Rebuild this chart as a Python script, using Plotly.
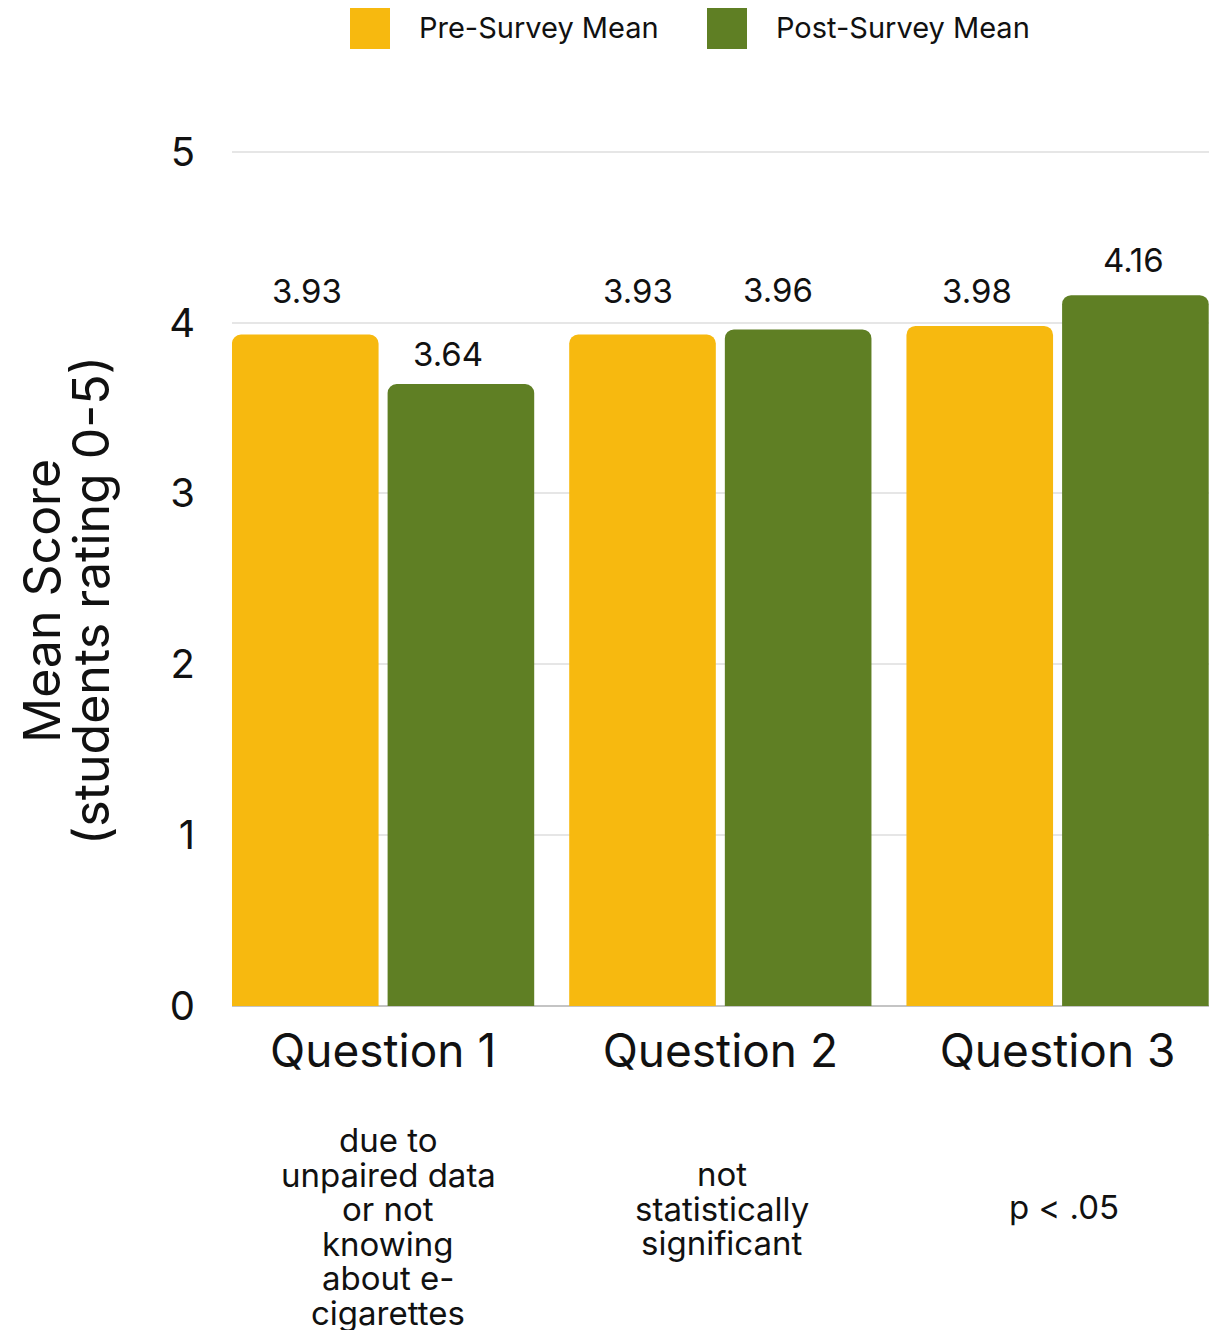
import plotly.graph_objects as go

# Survey results
questions = ["Question 1", "Question 2", "Question 3"]
pre_means = [3.93, 3.93, 3.98]
post_means = [3.64, 3.96, 4.16]
notes = [
    ["due to", "unpaired data", "or not", "knowing", "about e-", "cigarettes"],
    ["not", "statistically", "significant"],
    ["p < .05"],
]
series_names = ["Pre-Survey Mean", "Post-Survey Mean"]
y_ticks = [0, 1, 2, 3, 4, 5]

YELLOW = "#F7B90F"
GREEN = "#5F7F24"
FONT = "Inter, DejaVu Sans, sans-serif"
INK = "#111111"

# plot-area geometry in pixels (used to place paper-referenced decorations)
L, R, T, B = 232, 12, 150, 324
W, H = 1221, 1330
PW, PH = W - L - R, H - T - B
X0_PX, Y0_PX = L, H - B


def px_x(px):
    return (px - X0_PX) / PW


def px_y(py):
    return (Y0_PX - py) / PH


fig = go.Figure()
fig.add_trace(go.Bar(x=questions, y=pre_means, name=series_names[0],
                     marker=dict(color=YELLOW, line=dict(width=0)), showlegend=False))
fig.add_trace(go.Bar(x=questions, y=post_means, name=series_names[1],
                     marker=dict(color=GREEN, line=dict(width=0)), showlegend=False))

annotations = []
# value labels above each bar: (x offset of the bar within its group, label nudges)
bar_offset = [-0.2245, 0.2245]
label_xshift = [[0, -11], [-7, -18], [-5, 0]]
label_yshift = [[44, 30], [44, 39], [35, 35]]
for i in range(len(questions)):
    for j, vals in enumerate([pre_means, post_means]):
        annotations.append(dict(
            x=i + bar_offset[j], xref="x", y=vals[i], yref="y",
            text=f"{vals[i]:.2f}", showarrow=False, yanchor="middle",
            xshift=label_xshift[i][j], yshift=label_yshift[i][j],
            font=dict(size=33, color=INK, family=FONT),
        ))

# explanatory notes under each category, one annotation per line
note_x = [388, 722, 1064]
note_first_y = [1140, 1174, 1207]
LINE_STEP = 34.6
for cx, fy, lines in zip(note_x, note_first_y, notes):
    for k, line in enumerate(lines):
        annotations.append(dict(
            x=px_x(cx), xref="paper", y=px_y(fy + k * LINE_STEP), yref="paper",
            text=line, showarrow=False, xanchor="center", yanchor="middle",
            font=dict(size=33, color=INK, family=FONT),
        ))

# y-axis title, two rotated lines
for cx, txt in [(42, "Mean Score"), (91, "(students rating 0-5)")]:
    annotations.append(dict(
        x=px_x(cx), xref="paper", y=px_y(601), yref="paper", textangle=-90,
        text=txt, showarrow=False, xanchor="center", yanchor="middle",
        font=dict(size=50, color=INK, family=FONT),
    ))

# legend drawn as swatches + labels
legend_items = [(series_names[0], YELLOW, 350), (series_names[1], GREEN, 707)]
shapes = []
for name, color, sx in legend_items:
    shapes.append(dict(type="rect", xref="paper", yref="paper",
                       x0=px_x(sx), x1=px_x(sx + 40), y0=px_y(49), y1=px_y(8),
                       fillcolor=color, line=dict(width=0)))
    annotations.append(dict(
        x=px_x(sx + 67), xref="paper", y=px_y(27), yref="paper",
        text=name, showarrow=False, xanchor="left", yanchor="middle",
        font=dict(size=29, color=INK, family=FONT),
    ))

fig.update_layout(
    width=W, height=H,
    margin=dict(l=L, r=R, t=T, b=B),
    barmode="group", bargap=0.077, bargroupgap=0.058, barcornerradius=9,
    plot_bgcolor="white", paper_bgcolor="white",
    font=dict(family=FONT, color=INK),
    annotations=annotations, shapes=shapes,
    xaxis=dict(range=[-0.448, 2.449], showgrid=False, showline=False, ticks="",
               ticklabelstandoff=14,
               tickfont=dict(size=46, family=FONT, color=INK)),
    yaxis=dict(range=[0, 5.01], tickvals=y_ticks, showgrid=True, gridcolor="#E6E6E6",
               gridwidth=2, zeroline=True, zerolinecolor="#C4C4C4", zerolinewidth=2,
               ticklabelstandoff=36, tickfont=dict(size=40, family=FONT, color=INK)),
)

fig.write_html("out.html")
